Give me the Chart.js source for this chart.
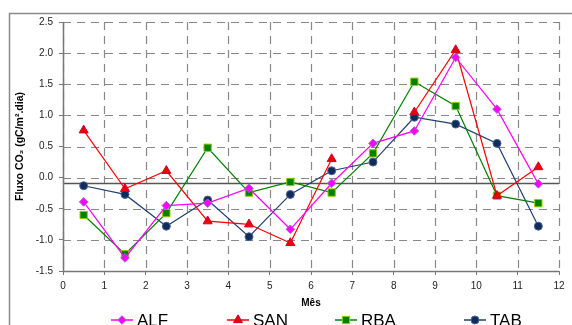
<!DOCTYPE html>
<html>
<head>
<meta charset="utf-8">
<script src="https://cdn.jsdelivr.net/npm/chart.js@4/dist/chart.umd.min.js"></script>
<style>
  html, body { margin: 0; padding: 0; background: #fff; }
  #wrap { width: 572px; height: 325px; position: relative; }
</style>
</head>
<body>
<div id="wrap"><canvas id="fluxo_chart" width="572" height="325"></canvas></div>
<script>
// Data
const months = [0.5, 1.5, 2.5, 3.5, 4.5, 5.5, 6.5, 7.5, 8.5, 9.5, 10.5, 11.5];
const alf = [-0.39, -1.29, -0.45, -0.41, -0.17, -0.83, -0.09, 0.55, 0.75, 1.93, 1.10, -0.10];
const san = [0.76, -0.18, 0.11, -0.70, -0.75, -1.05, 0.30, null, 1.05, 2.05, -0.29, 0.17];
const rba = [-0.60, -1.23, -0.57, 0.48, -0.24, -0.07, -0.24, 0.39, 1.54, 1.15, -0.29, -0.41];
const tab = [-0.13, -0.27, -0.78, -0.36, -0.95, -0.27, 0.11, 0.25, 0.97, 0.86, 0.55, -0.78];
const seriesNames = ['ALF', 'SAN', 'RBA', 'TAB'];
const refLine = -0.08;

const FONT = '"Liberation Sans", Arial, sans-serif';

function toPoints(values) {
    return months.map(function(m, i) { return { x: m, y: values[i] }; });
}

// legend marker x positions (line + marker + label)
const legendX = [122, 238, 346, 475];
const legendY = 320;

const framePlugin = {
    id: 'frame',
    beforeDraw: function(chart) {
        const ctx = chart.ctx;
        ctx.save();
        ctx.strokeStyle = '#8a8a8a';
        ctx.lineWidth = 1.5;
        ctx.beginPath();
        ctx.moveTo(9.5, 330);
        ctx.lineTo(9.5, 13.5);
        ctx.lineTo(580, 13.5);
        ctx.stroke();
        ctx.restore();
    },
    beforeDatasetsDraw: function(chart) {
        const ctx = chart.ctx;
        const area = chart.chartArea;
        const xs = chart.scales.x;
        const ys = chart.scales.y;
        ctx.save();
        // dashed grid
        ctx.strokeStyle = '#888888';
        ctx.lineWidth = 1.2;
        ctx.setLineDash([8, 6]);
        xs.ticks.forEach(function(t) {
            const px = Math.round(xs.getPixelForValue(t.value)) + 0.5;
            ctx.beginPath();
            ctx.moveTo(px, area.top);
            ctx.lineTo(px, area.bottom);
            ctx.stroke();
        });
        ys.ticks.forEach(function(t) {
            const py = Math.round(ys.getPixelForValue(t.value)) + 0.5;
            ctx.beginPath();
            ctx.moveTo(area.left, py);
            ctx.lineTo(area.right, py);
            ctx.stroke();
        });
        // reference line
        ctx.setLineDash([]);
        const y = Math.round(ys.getPixelForValue(refLine)) + 0.5;
        ctx.strokeStyle = '#555';
        ctx.lineWidth = 1.5;
        ctx.beginPath();
        ctx.moveTo(area.left, y);
        ctx.lineTo(area.right, y);
        ctx.stroke();
        // axis lines on top of grid
        ctx.strokeStyle = '#777';
        ctx.lineWidth = 1.5;
        ctx.beginPath();
        ctx.moveTo(Math.round(area.left) + 0.5, area.top);
        ctx.lineTo(Math.round(area.left) + 0.5, Math.round(area.bottom) + 0.5);
        ctx.lineTo(area.right, Math.round(area.bottom) + 0.5);
        ctx.stroke();
        ctx.restore();
    },
    afterDraw: function(chart) {
        const ctx = chart.ctx;
        ctx.save();
        chart.data.datasets.forEach(function(ds, i) {
            const mx = legendX[i];
            ctx.strokeStyle = ds.borderColor;
            ctx.lineWidth = 1.5;
            ctx.beginPath();
            ctx.moveTo(mx - 11, legendY);
            ctx.lineTo(mx + 11, legendY);
            ctx.stroke();
            ctx.fillStyle = ds.pointBackgroundColor;
            ctx.strokeStyle = ds.pointBorderColor;
            ctx.lineWidth = 1;
            Chart.helpers.drawPoint(ctx, {
                pointStyle: ds.pointStyle,
                radius: ds.pointRadius,
                borderWidth: 1
            }, mx, legendY);
            ctx.fillStyle = '#000';
            ctx.font = '17px ' + FONT;
            ctx.textBaseline = 'middle';
            ctx.textAlign = 'left';
            ctx.fillText(ds.label, mx + 15, legendY + 1);
        });
        ctx.restore();
    }
};

function makeDataset(label, values, line, fill, border, style, radius) {
    return {
        label: label,
        data: toPoints(values),
        borderColor: line,
        borderWidth: 1.2,
        backgroundColor: fill,
        pointBackgroundColor: fill,
        pointBorderColor: border,
        pointBorderWidth: 1,
        pointStyle: style,
        pointRadius: radius,
        pointHoverRadius: radius,
        spanGaps: false,
        tension: 0
    };
}

const ctx = document.getElementById('fluxo_chart').getContext('2d');
new Chart(ctx, {
    type: 'line',
    data: {
        datasets: [
            makeDataset(seriesNames[0], alf, '#ff00ff', '#ff00ff', '#9966cc', 'rectRot', 4.3),
            makeDataset(seriesNames[1], san, '#ff0000', '#ee0000', '#cc0033', 'triangle', 5.2),
            makeDataset(seriesNames[2], rba, '#008000', '#008000', '#99cc00', 'rect', 5.2),
            makeDataset(seriesNames[3], tab, '#1f3f6f', '#0f2d5c', '#4a6590', 'circle', 4)
        ]
    },
    options: {
        responsive: false,
        animation: false,
        layout: { padding: { top: 22, right: 13, left: 0, bottom: 0 } },
        plugins: {
            legend: { display: false },
            title: { display: false },
            tooltip: { enabled: false }
        },
        scales: {
            x: {
                type: 'linear',
                min: 0,
                max: 12,
                afterFit: function(scale) { scale.height = 54; },
                ticks: {
                    stepSize: 1,
                    padding: 5,
                    color: '#222',
                    font: { family: FONT, size: 10 }
                },
                grid: { drawOnChartArea: false, tickLength: 4, tickColor: '#777' },
                border: { display: false },
                title: {
                    display: true,
                    text: 'Mês',
                    color: '#000',
                    padding: { top: 0, bottom: 16 },
                    font: { family: FONT, size: 10, weight: 'bold' }
                }
            },
            y: {
                min: -1.5,
                max: 2.5,
                afterFit: function(scale) { scale.width = 63; },
                ticks: {
                    stepSize: 0.5,
                    padding: 6,
                    color: '#222',
                    font: { family: FONT, size: 10 },
                    callback: function(value) { return value.toFixed(1); }
                },
                grid: { drawOnChartArea: false, tickLength: 4, tickColor: '#777' },
                border: { display: false },
                title: {
                    display: true,
                    text: 'Fluxo CO₂ (gC/m².dia)',
                    color: '#000',
                    padding: { top: 14, bottom: 0 },
                    font: { family: FONT, size: 10.5, weight: 'bold' }
                }
            }
        }
    },
    plugins: [framePlugin]
});
</script>
</body>
</html>
